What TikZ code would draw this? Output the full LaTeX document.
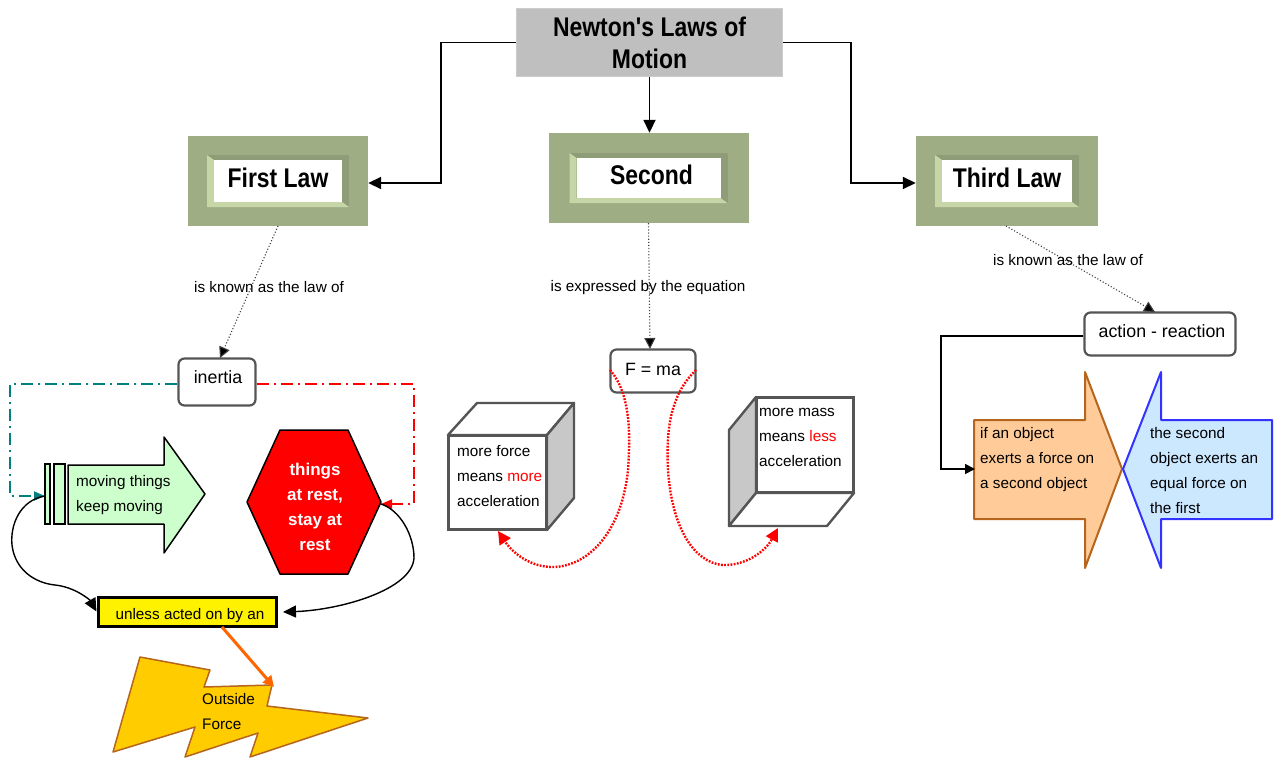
\documentclass[tikz,border=0pt]{standalone}
\usepackage{fontspec}
\setmainfont{Liberation Sans}
\newfontfamily\hdfont[FakeStretch=0.85]{Liberation Sans}
\usetikzlibrary{arrows.meta}
\definecolor{olivebox}{HTML}{9FAD85}
\definecolor{olivedark}{HTML}{8F9C78}
\definecolor{olivelight}{HTML}{C6D6A6}
\definecolor{brownline}{HTML}{B5651D}
\definecolor{tealline}{HTML}{008080}
\definecolor{orangeline}{HTML}{FF6600}
\definecolor{cubegray}{HTML}{C8C8C8}
\definecolor{bordergray}{HTML}{555555}
\definecolor{boltfill}{HTML}{FFCC00}
\definecolor{peachfill}{HTML}{FFCC99}
\definecolor{skyfill}{HTML}{CCE8FF}
\definecolor{mintfill}{HTML}{CCFFCC}
\definecolor{blueline}{HTML}{3333FF}
\tikzset{
  x=1pt,y=-1pt,
  small/.style={font=\fontsize{15.3}{25}\selectfont,inner sep=0pt,align=left},
  lbl/.style={font=\fontsize{15.3}{25}\selectfont,inner sep=0pt,fill=none},
  hd/.style={font=\hdfont\bfseries\fontsize{27}{32}\selectfont,inner sep=0pt,align=center},
  roundbox/.style={draw=bordergray,line width=2.2pt,rounded corners=6pt,fill=white,inner sep=0pt,
    font=\fontsize{17.8}{22}\selectfont},
  solidarrow/.style={draw=black,line width=1.8pt,-{Triangle[length=13pt,width=12pt]}},
  dottedarrow/.style={draw=black!75,line width=1.1pt,dotted,-{Triangle[length=11pt,width=11pt,fill=black]}},
  dashteal/.style={draw=tealline,line width=1.8pt,dash pattern=on 12pt off 5pt on 2pt off 5pt,-{Triangle[length=11pt,width=9pt]}},
  dashred/.style={draw=red,line width=1.8pt,dash pattern=on 12pt off 5pt on 2pt off 5pt,-{Triangle[length=11pt,width=9pt]}},
  curvearrow/.style={draw=black,line width=1.4pt,-{Triangle[length=13pt,width=12pt]}},
  reddots/.style={draw=red,line width=2.4pt,dash pattern=on 1.8pt off 1.4pt,-{Triangle[length=13pt,width=13pt]}},
  cubeline/.style={draw=bordergray,line width=2.4pt,line join=round},
}
% name, cx, cy, half width, half height, hole half width, hole half height, text
\newcommand\lawbox[8]{%
  \node[fill=olivebox,minimum width=2*#4 pt,minimum height=2*#5 pt,inner sep=0pt] (#1) at (#2,#3) {};
  \begin{scope}[shift={(#2,#3)}]
    \fill[olivedark] (-#6-7,-#7-5) rectangle (#6+7,#7+5);
    \fill[olivelight] (-#6-7,-#7-5) -- (-#6,-#7) -- (-#6,#7) -- (#6,#7) -- (#6+7,#7+5) -- (-#6-7,#7+5) -- cycle;
    \node[fill=white,minimum width=2*#6 pt,minimum height=2*#7 pt,inner sep=0pt] (#1t) at (0,0) {};
    \node[hd] (#1l) at (0,-3) {#8};
  \end{scope}}
\begin{document}
\begin{tikzpicture}
\path[use as bounding box,fill=white] (0,0) rectangle (1274,760);

% title and laws
\node[fill=black!25,draw=black!20,line width=1pt,minimum width=266pt,minimum height=68pt,inner sep=0pt,hd] (title) at (649.5,42.5) {Newton's Laws of\\Motion};
\lawbox{first}{278}{181}{90}{45}{64}{21}{First Law}
\lawbox{second}{648.5}{178}{100}{45}{72}{20}{\hspace*{6pt}Second}
\lawbox{third}{1007}{181}{91}{45}{65}{21}{Third Law}

\coordinate (e1) at (441,100);
\coordinate (e2) at (851,100);
\draw[solidarrow] (title.west) -| (e1) |- ([yshift=-2pt]first.east);
\draw[solidarrow] (title.south) -- (title.south |- second.north);
\draw[solidarrow] (title.east) -| (e2) |- ([yshift=-2pt]third.west);

% central boxes
\node[roundbox,minimum width=77pt,minimum height=47pt] (inertia) at (217,382) {};
\node[font=\fontsize{17.8}{22}\selectfont,inner sep=0pt] (inertiat) at (218,377) {inertia};
\node[roundbox,minimum width=85pt,minimum height=43pt] (fma) at (653,371) {};
\node[font=\fontsize{17.8}{22}\selectfont,inner sep=0pt] (fmat) at (653,369) {F = ma};
\node[roundbox,minimum width=151pt,minimum height=43pt] (action) at (1160,334) {};
\node[font=\fontsize{17.8}{22}\selectfont,inner sep=0pt] (actiont) at (1162,331) {action - reaction};

\coordinate (fmatop) at (650,349);
\coordinate (acttop) at (1155,312);
\coordinate (inertop) at (220,358);
\coordinate (firstb) at (278,226);
\coordinate (thirdb) at (1006,226);
\draw[dottedarrow] (firstb) -- (inertop);
\draw[dottedarrow] (second.south) -- (fmatop);
\draw[dottedarrow] (thirdb) -- (acttop);
\node[lbl] (l1) at (269,287) {is known as the law of};
\node[lbl] (l2) at (648,288) {is expressed by the equation};
\node[lbl] (l3) at (1068,260) {is known as the law of};

% green arrow
\draw[black,line width=1.5pt,fill=mintfill] (45,464) rectangle (50,524);
\draw[black,line width=1.5pt,fill=mintfill] (54,464) rectangle (65,524);
\draw[black,line width=1.5pt,fill=mintfill,line join=round] (68,465) -- (164,465) -- (164,437) -- (205,494) -- (164,553) -- (164,524) -- (68,524) -- cycle;
\node[small,anchor=west] (moving) at (76,495) {moving things\\keep moving};
\coordinate (greenin) at (45,496);

% hexagon
\draw[black,line width=1.5pt,fill=red,line join=round] (280,430) -- (348,430) -- (381,502) -- (348,574) -- (280,574) -- (247,502) -- cycle;
\node[font=\bfseries\fontsize{17}{25}\selectfont,text=white,align=center,inner sep=0pt] (rest) at (315,507) {things\\at rest,\\stay at\\rest};
\coordinate (hexin) at (381,504);

% inertia links
\coordinate (c1) at (10,440);
\coordinate (c2) at (414,440);
\draw[dashteal] ([yshift=-2pt]inertia.west) -| (c1) |- (greenin);
\draw[dashred] ([yshift=-2pt]inertia.east) -| (c2) |- (hexin);

% yellow box
\node[draw=black,line width=3pt,fill=yellow,minimum width=178pt,minimum height=29pt,inner sep=0pt] (unless) at (187,611.5) {};
\node[font=\fontsize{15.3}{20}\selectfont,inner sep=0pt] (unlesst) at (190,616) {unless acted on by an};
\coordinate (unlessr) at (283,612);
\draw[curvearrow] (greenin) .. controls (20,500) and (10,525) .. (12,545) .. controls (15,570) and (35,583) .. (55,585) .. controls (75,587) and (90,600) .. (unless.west);
\draw[curvearrow] (hexin) .. controls (400,510) and (414,535) .. (414,558) .. controls (412,590) and (340,610) .. (unlessr);

% lightning
\draw[brownline,line width=1.5pt,fill=boltfill,line join=round] (140,657) -- (210,670) -- (204,687) -- (272,685) -- (267,706) -- (368,718) -- (250,757) -- (258,733) -- (185,757) -- (195,727) -- (113,752) -- cycle;
\node[small,anchor=west] (outside) at (202,712) {Outside\\Force};
\coordinate (boltin) at (274,687);
\coordinate (unlessb) at (222,627);
\draw[draw=orangeline,line width=3pt,-{Triangle[length=11pt,width=11pt]}] (unlessb) -- (boltin);

% left cube
\draw[cubeline,fill=white] (448,435) -- (477,403) -- (574,403) -- (547,435) -- cycle;
\draw[cubeline,fill=cubegray] (547,435) -- (574,403) -- (574,498) -- (547,530) -- cycle;
\node[draw=bordergray,line width=2.4pt,fill=white,minimum width=98pt,minimum height=94pt,inner sep=0pt] (cubeA) at (497.5,482.5) {};
\node[small,anchor=west] (cubeAt) at (457,476) {more force\\means \textcolor{red}{more}\\acceleration};

% right cube
\draw[cubeline,fill=cubegray] (756,397) -- (729,430) -- (729,526) -- (756,493) -- cycle;
\draw[cubeline,fill=white] (756,493) -- (854,493) -- (827,526) -- (729,526) -- cycle;
\node[draw=bordergray,line width=2.4pt,fill=white,minimum width=97pt,minimum height=95pt,inner sep=0pt] (cubeB) at (805,445) {};
\node[small,anchor=west] (cubeBt) at (759,437) {more mass\\means \textcolor{red}{less}\\acceleration};

\coordinate (fmal) at (610,370);
\coordinate (fmar) at (696,370);
\coordinate (cubeAin) at (498,531);
\coordinate (cubeBin) at (778,528);
\draw[reddots] (fmal) .. controls (632,395) and (630,440) .. (628,470) .. controls (622,530) and (590,565) .. (555,567) .. controls (530,568) and (512,552) .. (cubeAin);
\draw[reddots] (fmar) .. controls (670,395) and (666,430) .. (668,470) .. controls (672,530) and (695,562) .. (722,565) .. controls (745,566) and (765,552) .. (cubeBin);

% third-law arrows
\draw[brownline,line width=2pt,fill=peachfill,line join=round] (974,420) -- (1085,420) -- (1085,372) -- (1122,469) -- (1085,568) -- (1085,519) -- (974,519) -- cycle;
\draw[blueline,line width=2pt,fill=skyfill,line join=round] (1272,420) -- (1161,420) -- (1161,372) -- (1123,469) -- (1161,568) -- (1161,519) -- (1272,519) -- cycle;
\node[small,anchor=west] (ifobj) at (980,460) {if an object\\exerts a force on\\a second object};
\node[small,anchor=west] (thesec) at (1150,471) {the second\\object exerts an\\equal force on\\the first};
\coordinate (c3) at (941,400);
\coordinate (orangein) at (975,469);
\draw[draw=black,line width=1.6pt,-{Triangle[length=10pt,width=10pt]}] ([yshift=-2pt]action.west) -| (c3) |- (orangein);
\end{tikzpicture}
\end{document}
